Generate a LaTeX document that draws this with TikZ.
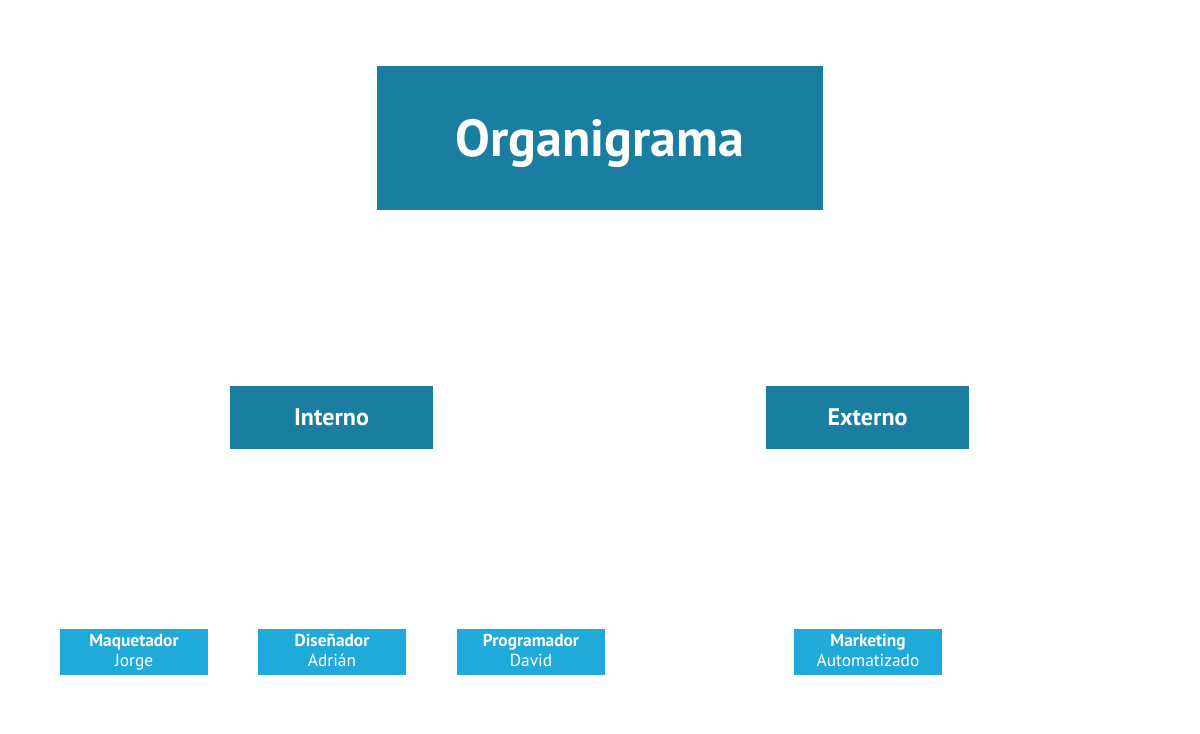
\documentclass[tikz,border=0pt]{standalone}
\usepackage{fontspec}
\setmainfont{PT Sans}
\definecolor{azuloscuro}{HTML}{1A7EA0}
\definecolor{azulclaro}{HTML}{1FAAD9}
\newcommand{\cargo}[2]{\textbf{#1}\strut\\#2\strut}
\begin{document}
\begin{tikzpicture}[x=0.75pt,y=-0.75pt,
  titulo/.style={fill=azuloscuro,text=white,font=\bfseries\fontsize{39}{44}\selectfont,text depth=0pt,minimum width=334.5pt,minimum height=108pt,inner sep=0pt},
  grupo/.style={fill=azuloscuro,text=white,font=\bfseries\fontsize{18}{21}\selectfont,text depth=0pt,minimum width=152.25pt,minimum height=47.25pt,inner sep=0pt},
  puesto/.style={fill=azulclaro,text=white,font=\fontsize{13}{15}\selectfont,align=center,minimum width=111pt,minimum height=34.5pt,inner sep=0pt}]
\useasboundingbox (0,0) rectangle (1200,734);
\node[titulo] (org) at (600,138) {Organigrama};
\node[grupo] (interno) at (331.5,417.5) {Interno};
\node[grupo] (externo) at (867.5,417.5) {Externo};
\node[puesto] (maq) at (134,652) {\cargo{Maquetador}{Jorge}};
\node[puesto] (dis) at (332,652) {\cargo{Diseñador}{Adrián}};
\node[puesto] (prog) at (531,652) {\cargo{Programador}{David}};
\node[puesto] (mark) at (868,652) {\cargo{Marketing}{Automatizado}};
\end{tikzpicture}
\end{document}
